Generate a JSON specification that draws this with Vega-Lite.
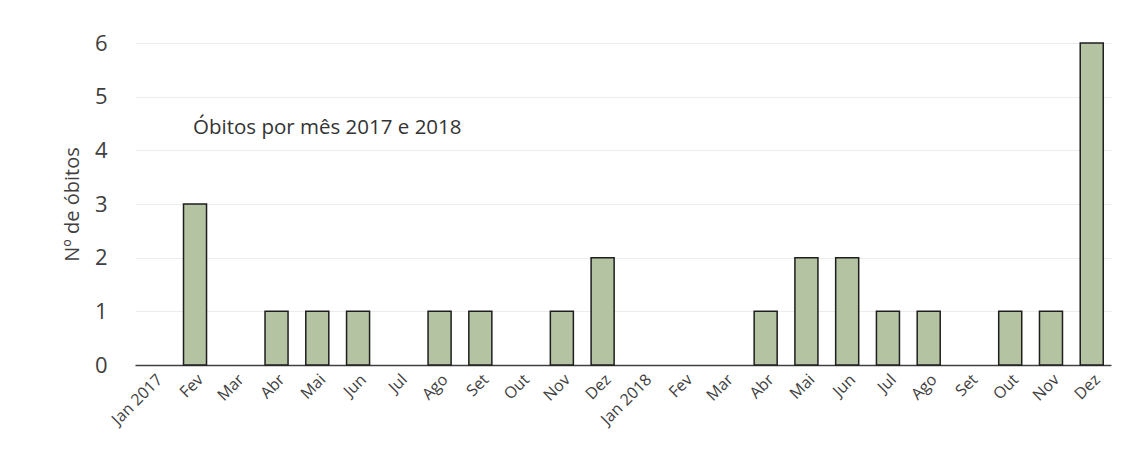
{
  "$schema": "https://vega.github.io/schema/vega-lite/v6.json",
  "autosize": {"type": "none"},
  "padding": {"left": 135, "top": 43, "right": 13, "bottom": 93},
  "width": 976,
  "height": 322,
  "background": "white",
  "config": {
    "font": "Open Sans",
    "view": {"stroke": null}
  },
  "layer": [
    {
      "data": {"values": [
        {"mes": "2017-01", "obitos": 0}, {"mes": "2017-02", "obitos": 3}, {"mes": "2017-03", "obitos": 0},
        {"mes": "2017-04", "obitos": 1}, {"mes": "2017-05", "obitos": 1}, {"mes": "2017-06", "obitos": 1},
        {"mes": "2017-07", "obitos": 0}, {"mes": "2017-08", "obitos": 1}, {"mes": "2017-09", "obitos": 1},
        {"mes": "2017-10", "obitos": 0}, {"mes": "2017-11", "obitos": 1}, {"mes": "2017-12", "obitos": 2},
        {"mes": "2018-01", "obitos": 0}, {"mes": "2018-02", "obitos": 0}, {"mes": "2018-03", "obitos": 0},
        {"mes": "2018-04", "obitos": 1}, {"mes": "2018-05", "obitos": 2}, {"mes": "2018-06", "obitos": 2},
        {"mes": "2018-07", "obitos": 1}, {"mes": "2018-08", "obitos": 1}, {"mes": "2018-09", "obitos": 0},
        {"mes": "2018-10", "obitos": 1}, {"mes": "2018-11", "obitos": 1}, {"mes": "2018-12", "obitos": 6}
      ]},
      "mark": {"type": "bar", "fill": "#b4c3a1", "stroke": "#1e1e1e", "strokeWidth": 1.5},
      "encoding": {
        "x": {
          "field": "mes", "type": "ordinal", "sort": null,
          "scale": {"paddingInner": 0.435, "paddingOuter": 0.19},
          "axis": {
            "title": null,
            "labelExpr": "(['Jan','Fev','Mar','Abr','Mai','Jun','Jul','Ago','Set','Out','Nov','Dez'])[toNumber(slice(datum.value,5))-1] + (slice(datum.value,5)=='01' ? ' ' + slice(datum.value,0,4) : '')",
            "labelAngle": -45,
            "labelFontSize": 16,
            "labelColor": "#404040",
            "labelPadding": 6,
            "ticks": false,
            "domainColor": "#404040",
            "domainWidth": 1.5
          }
        },
        "y": {
          "field": "obitos", "type": "quantitative",
          "scale": {"domain": [0, 6]},
          "axis": {
            "title": "Nº de óbitos",
            "titleFontSize": 20,
            "titleFontWeight": "normal",
            "titleColor": "#404040",
            "titlePadding": 12,
            "values": [0, 1, 2, 3, 4, 5, 6],
            "format": "d",
            "labelFontSize": 22,
            "labelColor": "#404040",
            "labelPadding": 28,
            "ticks": false,
            "domain": false,
            "grid": true,
            "gridColor": "#ececec",
            "gridWidth": 1
          }
        },
        "strokeOpacity": {
          "condition": {"test": "datum.obitos == 0", "value": 0},
          "value": 1
        }
      }
    },
    {
      "data": {"values": [{"mes": "2017-02", "y": 4.42, "texto": "Óbitos por mês 2017 e 2018"}]},
      "mark": {"type": "text", "align": "left", "baseline": "middle", "dx": -2, "fontSize": 20.5, "color": "#333333"},
      "encoding": {
        "x": {"field": "mes", "type": "ordinal"},
        "y": {"field": "y", "type": "quantitative"},
        "text": {"field": "texto"}
      }
    }
  ]
}
